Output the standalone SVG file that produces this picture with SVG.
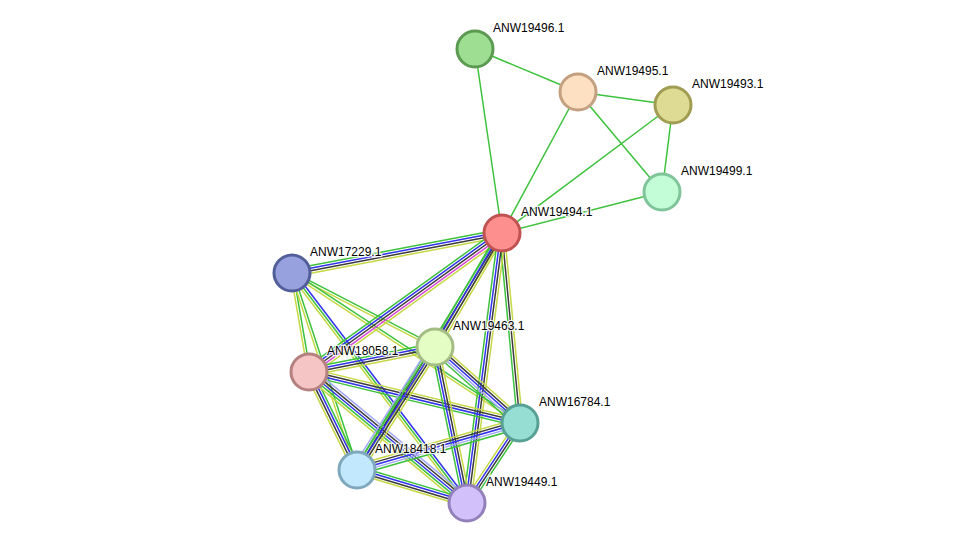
<svg xmlns="http://www.w3.org/2000/svg" width="975" height="549" viewBox="0 0 975 549">
<style>
line{stroke-width:1.5;fill:none}
.g{stroke:#3dc23d}.b{stroke:#3232f0}.k{stroke:#3c3c3c}.y{stroke:#c6d844}.m{stroke:#d848d8}.l{stroke:#a4a8f6}
circle{stroke-width:3}
text{font-family:"Liberation Sans",Arial,sans-serif;font-size:12px;fill:#000;stroke:#fff;stroke-width:2.5;stroke-opacity:0.85;paint-order:stroke}
</style>
<rect width="975" height="549" fill="#fff"/>
<g id="connectors">
<line class="g" x1="475" y1="49" x2="578" y2="92"/>
<line class="g" x1="475" y1="49" x2="502" y2="233"/>
<line class="g" x1="578" y1="92" x2="673" y2="105"/>
<line class="g" x1="578" y1="92" x2="502" y2="233"/>
<line class="g" x1="578" y1="92" x2="662" y2="192"/>
<line class="g" x1="673" y1="105" x2="502" y2="233"/>
<line class="g" x1="673" y1="105" x2="662" y2="192"/>
<line class="g" x1="662" y1="192" x2="502" y2="233"/>
<!-- F-H -->
<g transform="translate(292 273) rotate(80.26)"><line class="g" x1="0" x2="100.4" y1="-1.25" y2="-1.25"/><line class="y" x1="0" x2="100.4" y1="1.25" y2="1.25"/></g>
<!-- F-J -->
<g transform="translate(292 273) rotate(71.74)"><line class="g" x1="0" x2="207.4" y1="-1.25" y2="-1.25"/><line class="y" x1="0" x2="207.4" y1="1.25" y2="1.25"/></g>
<!-- F-K -->
<g transform="translate(292 273) rotate(52.73)"><line class="b" x1="0" x2="289" y1="-2.5" y2="-2.5"/><line class="g" x1="0" x2="289" y1="0" y2="0"/><line class="y" x1="0" x2="289" y1="2.5" y2="2.5"/></g>
<!-- F-G -->
<g transform="translate(292 273) rotate(27.36)"><line class="g" x1="0" x2="161" y1="-1.25" y2="-1.25"/><line class="y" x1="0" x2="161" y1="1.25" y2="1.25"/></g>
<!-- F-I -->
<g transform="translate(292 273) rotate(33.34)"><line class="g" x1="0" x2="272.9" y1="-1.25" y2="-1.25"/><line class="y" x1="0" x2="272.9" y1="1.25" y2="1.25"/></g>
<!-- E-F -->
<g transform="translate(292 273) rotate(-10.78)"><line class="g" x1="0" x2="213.8" y1="-3.75" y2="-3.75"/><line class="b" x1="0" x2="213.8" y1="-1.25" y2="-1.25"/><line class="k" x1="0" x2="213.8" y1="1.25" y2="1.25"/><line class="y" x1="0" x2="213.8" y1="3.75" y2="3.75"/></g>
<!-- E-H -->
<g transform="translate(309 372) rotate(-35.77)"><line class="g" x1="0" x2="237.8" y1="-5" y2="-5"/><line class="b" x1="0" x2="237.8" y1="-2.5" y2="-2.5"/><line class="k" x1="0" x2="237.8" y1="0" y2="0"/><line class="m" x1="0" x2="237.8" y1="2.5" y2="2.5"/><line class="y" x1="0" x2="237.8" y1="5" y2="5"/></g>
<!-- E-J -->
<g transform="translate(357 470) rotate(-58.54)"><line class="g" x1="0" x2="277.8" y1="-2.5" y2="-2.5"/><line class="k" x1="0" x2="277.8" y1="0" y2="0"/><line class="y" x1="0" x2="277.8" y1="2.5" y2="2.5"/></g>
<!-- E-G -->
<g transform="translate(435 347) rotate(-59.56)"><line class="g" x1="0" x2="132.2" y1="-3.75" y2="-3.75"/><line class="b" x1="0" x2="132.2" y1="-1.25" y2="-1.25"/><line class="k" x1="0" x2="132.2" y1="1.25" y2="1.25"/><line class="y" x1="0" x2="132.2" y1="3.75" y2="3.75"/></g>
<!-- E-I -->
<g transform="translate(502 233) rotate(84.59)"><line class="g" x1="0" x2="190.9" y1="2.5" y2="2.5"/><line class="k" x1="0" x2="190.9" y1="0" y2="0"/><line class="y" x1="0" x2="190.9" y1="-2.5" y2="-2.5"/></g>
<!-- E-K -->
<g transform="translate(502 233) rotate(97.39)"><line class="g" x1="0" x2="272.3" y1="3.75" y2="3.75"/><line class="b" x1="0" x2="272.3" y1="1.25" y2="1.25"/><line class="k" x1="0" x2="272.3" y1="-1.25" y2="-1.25"/><line class="y" x1="0" x2="272.3" y1="-3.75" y2="-3.75"/></g>
<!-- H-G -->
<g transform="translate(309 372) rotate(-11.22)"><line class="g" x1="0" x2="128.5" y1="-3.75" y2="-3.75"/><line class="b" x1="0" x2="128.5" y1="-1.25" y2="-1.25"/><line class="k" x1="0" x2="128.5" y1="1.25" y2="1.25"/><line class="y" x1="0" x2="128.5" y1="3.75" y2="3.75"/></g>
<!-- H-I -->
<g transform="translate(309 372) rotate(13.59)"><line class="y" x1="0" x2="217.1" y1="-3.75" y2="-3.75"/><line class="k" x1="0" x2="217.1" y1="-1.25" y2="-1.25"/><line class="b" x1="0" x2="217.1" y1="1.25" y2="1.25"/><line class="g" x1="0" x2="217.1" y1="3.75" y2="3.75"/></g>
<!-- H-J -->
<g transform="translate(309 372) rotate(63.90)"><line class="y" x1="0" x2="109.1" y1="3.75" y2="3.75"/><line class="k" x1="0" x2="109.1" y1="1.25" y2="1.25"/><line class="b" x1="0" x2="109.1" y1="-1.25" y2="-1.25"/><line class="g" x1="0" x2="109.1" y1="-3.75" y2="-3.75"/></g>
<!-- H-K -->
<g transform="translate(309 372) rotate(39.66)"><line class="l" x1="0" x2="205.2" y1="-5" y2="-5"/><line class="k" x1="0" x2="205.2" y1="-2.5" y2="-2.5"/><line class="b" x1="0" x2="205.2" y1="0" y2="0"/><line class="g" x1="0" x2="205.2" y1="2.5" y2="2.5"/><line class="y" x1="0" x2="205.2" y1="5" y2="5"/></g>
<!-- G-I -->
<g transform="translate(435 347) rotate(41.80)"><line class="y" x1="0" x2="114" y1="-5" y2="-5"/><line class="k" x1="0" x2="114" y1="-2.5" y2="-2.5"/><line class="b" x1="0" x2="114" y1="0" y2="0"/><line class="l" x1="0" x2="114" y1="2.5" y2="2.5"/><line class="g" x1="0" x2="114" y1="5" y2="5"/></g>
<!-- J-G -->
<g transform="translate(357 470) rotate(-57.61)"><line class="y" x1="0" x2="145.6" y1="5" y2="5"/><line class="k" x1="0" x2="145.6" y1="2.5" y2="2.5"/><line class="b" x1="0" x2="145.6" y1="0" y2="0"/><line class="g" x1="0" x2="145.6" y1="-2.5" y2="-2.5"/><line class="l" x1="0" x2="145.6" y1="-5" y2="-5"/></g>
<!-- G-K -->
<g transform="translate(435 347) rotate(78.41)"><line class="g" x1="0" x2="159.2" y1="3.75" y2="3.75"/><line class="b" x1="0" x2="159.2" y1="1.25" y2="1.25"/><line class="k" x1="0" x2="159.2" y1="-1.25" y2="-1.25"/><line class="y" x1="0" x2="159.2" y1="-3.75" y2="-3.75"/></g>
<!-- J-I -->
<g transform="translate(357 470) rotate(-16.08)"><line class="y" x1="0" x2="169.6" y1="-5" y2="-5"/><line class="k" x1="0" x2="169.6" y1="-2.5" y2="-2.5"/><line class="b" x1="0" x2="169.6" y1="0" y2="0"/><line class="l" x1="0" x2="169.6" y1="2.5" y2="2.5"/><line class="g" x1="0" x2="169.6" y1="5" y2="5"/></g>
<!-- K-I -->
<g transform="translate(467 503) rotate(-56.48)"><line class="y" x1="0" x2="96" y1="-3.75" y2="-3.75"/><line class="b" x1="0" x2="96" y1="-1.25" y2="-1.25"/><line class="k" x1="0" x2="96" y1="1.25" y2="1.25"/><line class="g" x1="0" x2="96" y1="3.75" y2="3.75"/></g>
<!-- J-K -->
<g transform="translate(357 470) rotate(16.70)"><line class="g" x1="0" x2="114.8" y1="-3.75" y2="-3.75"/><line class="b" x1="0" x2="114.8" y1="-1.25" y2="-1.25"/><line class="k" x1="0" x2="114.8" y1="1.25" y2="1.25"/><line class="y" x1="0" x2="114.8" y1="3.75" y2="3.75"/></g>
</g>
<g id="ANW19496.1"><circle cx="475" cy="49" r="18" fill="#9ede93" stroke="#5c9a52"/><text x="493" y="32">ANW19496.1</text></g>
<g id="ANW19495.1"><circle cx="578" cy="92" r="18" fill="#fddfc2" stroke="#c2a080"/><text x="597" y="75">ANW19495.1</text></g>
<g id="ANW19493.1"><circle cx="673" cy="105" r="18" fill="#dedb95" stroke="#a09c52"/><text x="692" y="88">ANW19493.1</text></g>
<g id="ANW19499.1"><circle cx="662" cy="192" r="18" fill="#c2fdd8" stroke="#80c49a"/><text x="681" y="175">ANW19499.1</text></g>
<g id="ANW19494.1"><circle cx="502" cy="233" r="18" fill="#fe8f8f" stroke="#c05252"/><text x="521" y="216">ANW19494.1</text></g>
<g id="ANW17229.1"><circle cx="292" cy="273" r="18" fill="#97a1dd" stroke="#525e9a"/><text x="310" y="256">ANW17229.1</text></g>
<g id="ANW19463.1"><circle cx="435" cy="347" r="18" fill="#e4fdc4" stroke="#a4bd84"/><text x="453" y="330">ANW19463.1</text></g>
<g id="ANW18058.1"><circle cx="309" cy="372" r="18" fill="#f5c4c4" stroke="#b48080"/><text x="327" y="355">ANW18058.1</text></g>
<g id="ANW16784.1"><circle cx="520" cy="423" r="18" fill="#96ded4" stroke="#56a094"/><text x="539" y="406">ANW16784.1</text></g>
<g id="ANW18418.1"><circle cx="357" cy="470" r="18" fill="#c1e8fc" stroke="#80a8bc"/><text x="375" y="453">ANW18418.1</text></g>
<g id="ANW19449.1"><circle cx="467" cy="503" r="18" fill="#d2c0fa" stroke="#9280ba"/><text x="486" y="486">ANW19449.1</text></g>
</svg>
